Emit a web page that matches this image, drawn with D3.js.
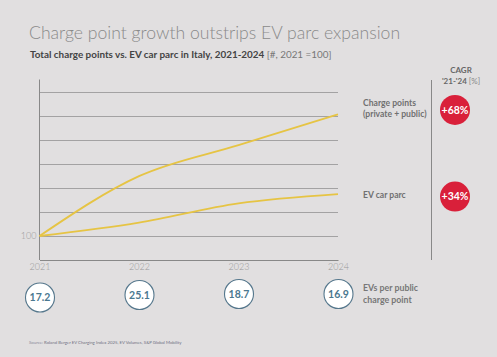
<!DOCTYPE html>
<html><head><meta charset="utf-8">
<script src="https://cdn.jsdelivr.net/npm/d3@7"></script>
<style>
html,body{margin:0;padding:0;background:#e1dfe0;}
svg{display:block;}
text{font-family:Lato,"Open Sans",sans-serif;}
</style></head>
<body>
<script>
const years = [2021, 2022, 2023, 2024];
const chargePoints = [100, 287, 384, 480];
const evParc = [100, 142, 202, 231];
const gridValues = [100, 175, 250, 325, 400, 475, 550];
const cagrLabels = ["+68%", "+34%"];
const seriesNames = [["Charge points", "(private + public)"], ["EV car parc"]];
const evsPerPoint = ["17.2", "25.1", "18.7", "16.9"];

const W = 497, H = 357;
const svg = d3.select("body").append("svg").attr("width", W).attr("height", H);
svg.append("rect").attr("width", W).attr("height", H).attr("fill", "#e1dfe0");

const x = d3.scaleLinear().domain([2021, 2024]).range([39.5, 338]);
const y = d3.scaleLinear().domain([100, 550]).range([236, 92]);
const yBottom = y(25), yTop = y(589);

// title
svg.append("text").attr("x", 29).attr("y", 38.5).attr("font-size", 17.6).attr("font-weight", 300)
  .attr("fill", "#8a8a8a").text("Charge point growth outstrips EV parc expansion");
const sub = svg.append("text").attr("x", 30).attr("y", 58).attr("font-size", 9.9).attr("fill", "#444");
sub.append("tspan").attr("font-weight", 700).text("Total charge points vs. EV car parc in Italy, 2021-2024 ");
sub.append("tspan").attr("fill", "#777").text("[#, 2021 =100]");

// gridlines
svg.append("g").selectAll("line").data(gridValues).join("line")
  .attr("x1", x(2021)).attr("x2", x(2024))
  .attr("y1", d => Math.round(y(d)) + 0.5).attr("y2", d => Math.round(y(d)) + 0.5)
  .attr("stroke", "#a3a2a3").attr("stroke-width", 1);

// axes
const yAxis = d3.axisLeft(y).tickValues([100]).tickSize(0).tickPadding(3);
const gy = svg.append("g").attr("transform", `translate(${x(2021)},0)`).call(yAxis);
gy.select(".domain").remove();
gy.selectAll("text").attr("font-size", 9).attr("fill", "#999").attr("font-family", "Lato").attr("font-weight", 300);
svg.append("line").attr("x1", x(2021)).attr("x2", x(2021)).attr("y1", yTop).attr("y2", yBottom)
  .attr("stroke", "#888").attr("stroke-width", 1);

const xAxis = d3.axisBottom(x).tickValues(years).tickFormat(d3.format("d")).tickSize(0).tickPadding(4);
const gx = svg.append("g").attr("transform", `translate(0,${yBottom})`).call(xAxis);
gx.select(".domain").attr("stroke", "#888");
gx.selectAll("text").attr("font-size", 9).attr("fill", "#999").attr("font-family", "Lato").attr("font-weight", 300);

// lines
const line = d3.line().x((d, i) => x(years[i])).y(d => y(d)).curve(d3.curveMonotoneX);
[chargePoints, evParc].forEach(s => {
  svg.append("path").attr("d", line(s)).attr("fill", "none")
    .attr("stroke", "#e6c444").attr("stroke-width", 1.8);
});

// series labels
const labelY = [106, 198];
seriesNames.forEach((lines, i) => {
  lines.forEach((t, j) => {
    svg.append("text").attr("x", 363).attr("y", labelY[i] + j * 11).attr("font-size", 8.6)
      .attr("font-weight", 700).attr("fill", "#707070").text(t);
  });
});

// CAGR column
svg.append("line").attr("x1", 431.5).attr("x2", 431.5).attr("y1", 80).attr("y2", 260)
  .attr("stroke", "#888").attr("stroke-width", 1);
svg.append("text").attr("x", 461).attr("y", 72.5).attr("text-anchor", "middle").attr("font-size", 8)
  .attr("font-weight", 700).attr("fill", "#666").text("CAGR");
const cg = svg.append("text").attr("x", 461).attr("y", 83.5).attr("text-anchor", "middle").attr("font-size", 8).attr("fill", "#666");
cg.append("tspan").attr("font-weight", 700).text("'21-'24 ");
cg.append("tspan").attr("fill", "#888").text("[%]");

const cagrY = [y(chargePoints[3]) - 4.5, y(evParc[3]) + 2.5];
cagrLabels.forEach((t, i) => {
  svg.append("circle").attr("cx", 455).attr("cy", cagrY[i]).attr("r", 15).attr("fill", "#d9203a");
  svg.append("text").attr("x", 455).attr("y", cagrY[i] + 3.6).attr("text-anchor", "middle")
    .attr("font-size", 10.5).attr("font-weight", 700).attr("fill", "#fff").text(t);
});

// EVs per public charge point
const circY = [297.5, 295, 294, 294];
evsPerPoint.forEach((t, i) => {
  svg.append("circle").attr("cx", x(years[i]) + 0.5).attr("cy", circY[i]).attr("r", 14.5)
    .attr("fill", "#fff").attr("stroke", "#55778c").attr("stroke-width", 1.1);
  svg.append("text").attr("x", x(years[i]) + 0.5).attr("y", circY[i] + 3.8).attr("text-anchor", "middle")
    .attr("font-size", 10.5).attr("font-weight", 700).attr("fill", "#4a7890").text(t);
});
svg.append("text").attr("x", 363).attr("y", 291).attr("font-size", 8.8).attr("font-weight", 700)
  .attr("fill", "#777").text("EVs per public");
svg.append("text").attr("x", 363).attr("y", 302.5).attr("font-size", 8.8).attr("font-weight", 700)
  .attr("fill", "#777").text("charge point");

// source
const src = svg.append("text").attr("x", 29).attr("y", 344).attr("font-size", 4.3).attr("fill", "#8a8a9a");
src.append("tspan").text("Source: ");
src.append("tspan").attr("fill", "#6f7080").text("Roland Berger EV Charging Index 2025, EV Volumes, S&P Global Mobility");
</script>
</body></html>
